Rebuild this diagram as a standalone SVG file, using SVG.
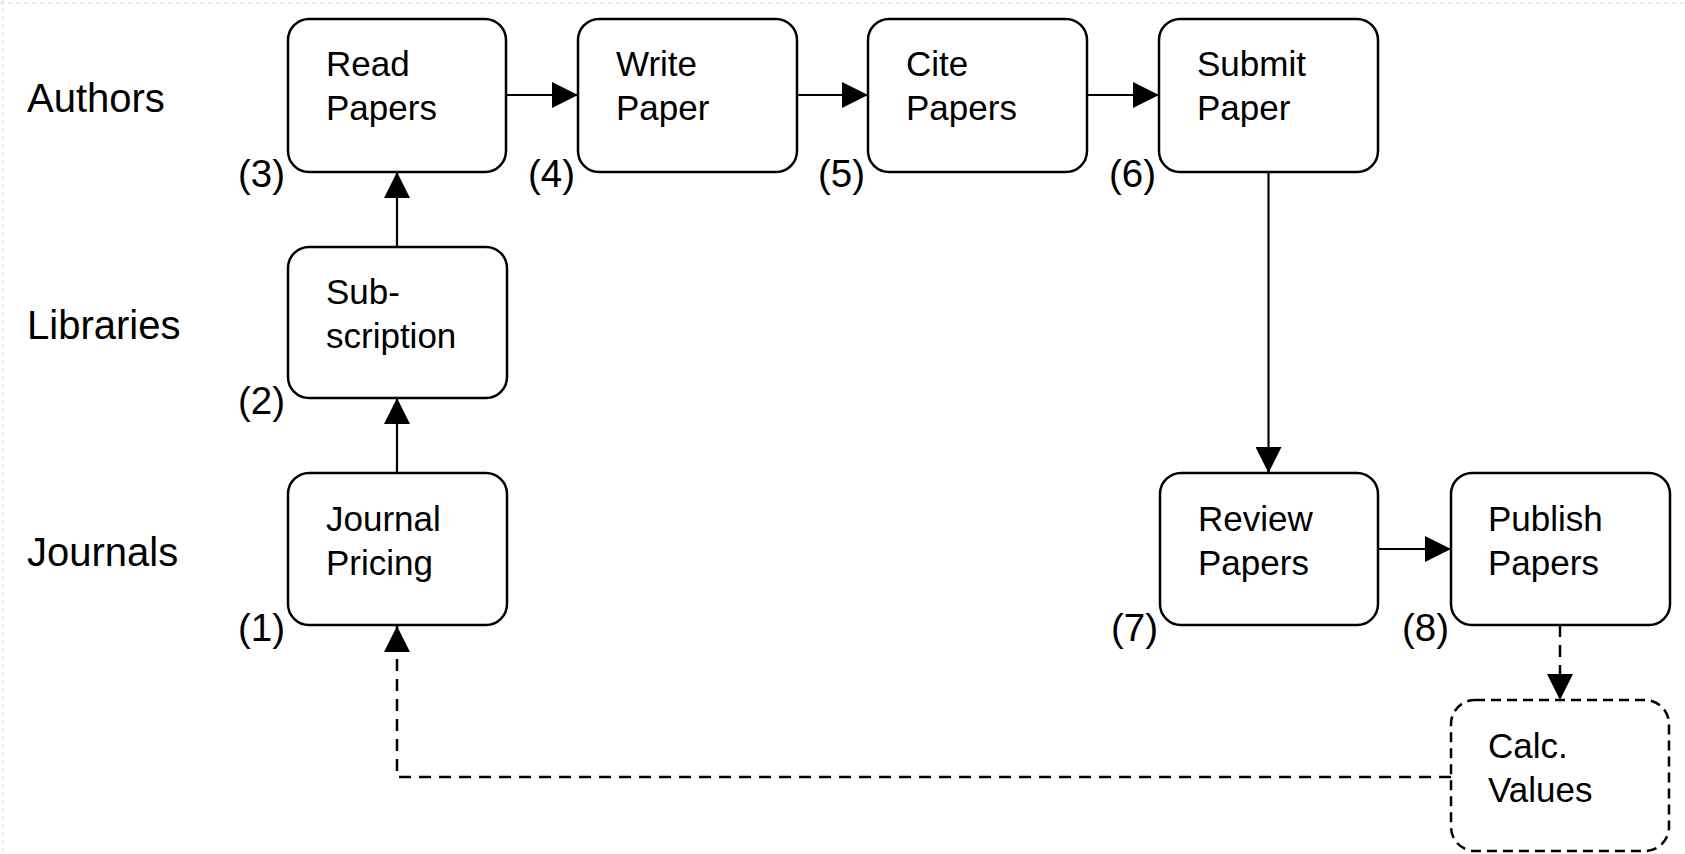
<svg xmlns="http://www.w3.org/2000/svg" width="1685" height="854" viewBox="0 0 1685 854">
<style>
.box{fill:#fff;stroke:#000;stroke-width:2.5}
.dbox{fill:#fff;stroke:#000;stroke-width:2.5;stroke-dasharray:10 6}
.lbl{font-family:"Liberation Sans",Arial,sans-serif;font-size:35px;fill:#000}
.row{font-family:"Liberation Sans",Arial,sans-serif;font-size:40px;fill:#000}
.num{font-family:"Liberation Sans",Arial,sans-serif;font-size:38.5px;fill:#000;text-anchor:end}
.c{fill:none;stroke:#000;stroke-width:2.2;marker-end:url(#ah)}
.cd{fill:none;stroke:#000;stroke-width:2.5;stroke-dasharray:12 8;marker-end:url(#ah)}
</style>
<defs>
<marker id="ah" markerUnits="userSpaceOnUse" markerWidth="26" markerHeight="26" viewBox="0 0 24 24" refX="24" refY="12" orient="auto">
<path d="M0,0 L24,12 L0,24 Z" fill="#000"/>
</marker>
</defs>
<rect width="1685" height="854" fill="#fff"/>
<g id="frame" stroke="#e4e4e4" stroke-width="1.5" stroke-dasharray="4 4" fill="none">
<line x1="0" y1="3" x2="1685" y2="3"/>
<line x1="3" y1="0" x2="3" y2="854"/>
</g>
<g id="rows">
<text class="row" x="27" y="112">Authors</text>
<text class="row" x="27" y="339">Libraries</text>
<text class="row" x="27" y="566">Journals</text>
</g>
<g id="connectors">
<line class="c" x1="506" y1="95" x2="578" y2="95"/>
<line class="c" x1="797" y1="95" x2="868" y2="95"/>
<line class="c" x1="1087" y1="95" x2="1159" y2="95"/>
<line class="c" x1="397" y1="247" x2="397" y2="172"/>
<line class="c" x1="397" y1="473" x2="397" y2="398"/>
<line class="c" x1="1268.5" y1="172" x2="1268.5" y2="473"/>
<line class="c" x1="1378" y1="549" x2="1451" y2="549"/>
<line class="cd" x1="1560" y1="625" x2="1560" y2="700"/>
<polyline class="cd" points="1451,777 397,777 397,626"/>
</g>
<g id="n1">
<rect class="box" x="288" y="473" width="219" height="152" rx="21"/>
<text class="lbl" x="326" y="531">Journal</text>
<text class="lbl" x="326" y="575">Pricing</text>
<text class="num" x="285" y="641">(1)</text>
</g>
<g id="n2">
<rect class="box" x="288" y="247" width="219" height="151" rx="21"/>
<text class="lbl" x="326" y="304">Sub-</text>
<text class="lbl" x="326" y="348">scription</text>
<text class="num" x="285" y="414">(2)</text>
</g>
<g id="n3">
<rect class="box" x="288" y="19" width="218" height="153" rx="21"/>
<text class="lbl" x="326" y="76">Read</text>
<text class="lbl" x="326" y="120">Papers</text>
<text class="num" x="285" y="187">(3)</text>
</g>
<g id="n4">
<rect class="box" x="578" y="19" width="219" height="153" rx="21"/>
<text class="lbl" x="616" y="76">Write</text>
<text class="lbl" x="616" y="120">Paper</text>
<text class="num" x="575" y="187">(4)</text>
</g>
<g id="n5">
<rect class="box" x="868" y="19" width="219" height="153" rx="21"/>
<text class="lbl" x="906" y="76">Cite</text>
<text class="lbl" x="906" y="120">Papers</text>
<text class="num" x="865" y="187">(5)</text>
</g>
<g id="n6">
<rect class="box" x="1159" y="19" width="219" height="153" rx="21"/>
<text class="lbl" x="1197" y="76">Submit</text>
<text class="lbl" x="1197" y="120">Paper</text>
<text class="num" x="1156" y="187">(6)</text>
</g>
<g id="n7">
<rect class="box" x="1160" y="473" width="218" height="152" rx="21"/>
<text class="lbl" x="1198" y="531">Review</text>
<text class="lbl" x="1198" y="575">Papers</text>
<text class="num" x="1158" y="641">(7)</text>
</g>
<g id="n8">
<rect class="box" x="1451" y="473" width="219" height="152" rx="21"/>
<text class="lbl" x="1488" y="531">Publish</text>
<text class="lbl" x="1488" y="575">Papers</text>
<text class="num" x="1449" y="641">(8)</text>
</g>
<g id="n9">
<rect class="dbox" x="1451" y="700" width="218" height="151" rx="24"/>
<text class="lbl" x="1488" y="758">Calc.</text>
<text class="lbl" x="1488" y="802">Values</text>
</g>
</svg>
